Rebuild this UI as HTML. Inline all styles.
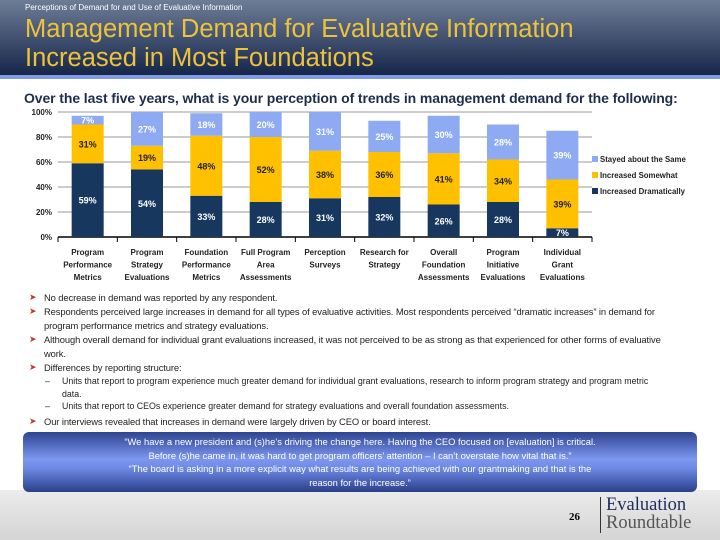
<!DOCTYPE html>
<html><head><meta charset="utf-8"><style>
body{margin:0;width:720px;height:540px;position:relative;overflow:hidden;background:#fff;font-family:"Liberation Sans",sans-serif}
.abs{position:absolute}
#hdr{left:0;top:0;width:720px;height:75px;background:linear-gradient(#6e7d96,#16264a)}
#stripe{left:0;top:75px;width:720px;height:4px;background:#7f9be6}
.bl{position:absolute;left:44px;font-size:9.4px;color:#222;line-height:13.5px;letter-spacing:-0.1px}
.bl:before{content:"➤";position:absolute;left:-15px;color:#c0392b;font-size:9px}
.sb{position:absolute;left:62px;font-size:8.8px;color:#222;line-height:12.5px}
.sb:before{content:"–";position:absolute;left:-17px}
</style></head><body>
<div id="hdr" class="abs"></div>
<div id="stripe" class="abs"></div>
<div class="abs" style="left:25px;top:3px;font-size:8px;color:#fff">Perceptions of Demand for and Use of Evaluative Information</div>
<div class="abs" style="left:25px;top:15px;font-size:25.5px;line-height:29px;color:#ecc33a">Management Demand for Evaluative Information<br>Increased in Most Foundations</div>
<div class="abs" style="left:24px;top:90px;font-size:14px;font-weight:bold;color:#1f2d4d;letter-spacing:-0.1px">Over the last five years, what is your perception of trends in management demand for the following:</div>

<svg class="abs" style="left:0;top:0" width="720" height="290" id="chart"></svg>

<div class="bl" style="top:291px">No decrease in demand was reported by any respondent.</div>
<div class="bl" style="top:305px;width:640px">Respondents perceived large increases in demand for all types of evaluative activities. Most respondents perceived “dramatic increases” in demand for program performance metrics and strategy evaluations.</div>
<div class="bl" style="top:333px;width:640px">Although overall demand for individual grant evaluations increased, it was not perceived to be as strong as that experienced for other forms of evaluative work.</div>
<div class="bl" style="top:361px">Differences by reporting structure:</div>
<div class="sb" style="top:375px;width:590px">Units that report to program experience much greater demand for individual grant evaluations, research to inform program strategy and program metric data.</div>
<div class="sb" style="top:400px">Units that report to CEOs experience greater demand for strategy evaluations and overall foundation assessments.</div>
<div class="bl" style="top:415px">Our interviews revealed that increases in demand were largely driven by CEO or board interest.</div>

<div class="abs" style="left:0;top:490px;width:720px;height:50px;background:linear-gradient(#ececec,#d4d4d4)"></div>
<div class="abs" style="left:23px;top:432px;width:674px;height:60px;border-radius:6px;background:linear-gradient(#2e4490,#7d97f0 45%,#6f8ae6 60%,#2a3f8a);color:#fff;font-size:9.4px;line-height:13.5px;text-align:center;padding-top:3px;box-sizing:border-box">“We have a new president and (s)he’s driving the change here. Having the CEO focused on [evaluation] is critical.<br>Before (s)he came in, it was hard to get program officers’ attention – I can’t overstate how vital that is.”<br>“The board is asking in a more explicit way what results are being achieved with our grantmaking and that is the<br>reason for the increase.”</div>
<div class="abs" style="left:569px;top:511px;font-size:11px;font-weight:bold;font-family:'Liberation Serif',serif">26</div>
<div class="abs" style="left:600px;top:497px;width:1px;height:36px;background:#333"></div>
<div class="abs" style="left:606px;top:496px;font-family:'Liberation Serif',serif;font-size:18.5px;line-height:18px;color:#1f2d5c">Evaluation</div>
<div class="abs" style="left:606px;top:514px;font-family:'Liberation Serif',serif;font-size:18.5px;line-height:18px;color:#555">Roundtable</div>

<script>
const categories=[["Program","Performance","Metrics"],["Program","Strategy","Evaluations"],["Foundation","Performance","Metrics"],["Full Program","Area","Assessments"],["Perception","Surveys"],["Research for","Strategy"],["Overall","Foundation","Assessments"],["Program","Initiative","Evaluations"],["Individual","Grant","Evaluations"]];
const dramatic=[59,54,33,28,31,32,26,28,7];
const somewhat=[31,19,48,52,38,36,41,34,39];
const same=[7,27,18,20,31,25,30,28,39];
const yTicks=[0,20,40,60,80,100];
const seriesNames=["Stayed about the Same","Increased Somewhat","Increased Dramatically"];
const NS="http://www.w3.org/2000/svg",svg=document.getElementById('chart');
const X0=58,X1=592,Y0=237,Y100=112,bw=(X1-X0)/categories.length,barW=32;
const y=v=>Y0-(Y0-Y100)*v/100, xc=i=>X0+bw*(i+0.5);
function mk(t,a){const e=document.createElementNS(NS,t);for(const k in a)e.setAttribute(k,a[k]);svg.appendChild(e);return e;}
yTicks.forEach(t=>{
 const l=mk('line',{x1:X0,x2:X1,y1:y(t),y2:y(t),stroke:t?'#999':'#000','stroke-width':t?1:1.5});
 
 const tx=mk('text',{x:52,y:y(t)+3,'text-anchor':'end','font-size':8,'font-weight':'bold',fill:'#222'});tx.textContent=t+'%';
 
});
for(let i=0;i<=categories.length;i++){const l=mk('line',{x1:X0+bw*i,x2:X0+bw*i,y1:Y0,y2:Y0+5,stroke:'#000'});}
const series=[[dramatic,'#17375e','#fff'],[somewhat,'#ffc000','#222'],[same,'#8eaaf2','#fff']];
categories.forEach((c,i)=>{
 let base=0;
 series.forEach(([arr,col,tc])=>{
  const v=arr[i];
  const r=mk('rect',{x:xc(i)-barW/2,y:y(base+v),width:barW,height:y(base)-y(base+v),fill:col});
  
  const t=mk('text',{x:xc(i),y:(y(base)+y(base+v))/2+3.5,'text-anchor':'middle','font-size':9,'font-weight':'bold',fill:tc});t.textContent=v+'%';
  
  base+=v;
 });
 c.forEach((s,j)=>{const t=mk('text',{x:xc(i),y:255+j*12.5,'text-anchor':'middle','font-size':8,'font-weight':'bold',fill:'#222'});t.textContent=s;
  });
});
const legCols=['#8eaaf2','#ffc000','#17375e'];
seriesNames.forEach((n,k)=>{
 const r=mk('rect',{x:592,y:156+k*16,width:6,height:6,fill:legCols[k]});
 const t=mk('text',{x:600,y:162+k*16,'font-size':7.8,'font-weight':'bold',fill:'#222'});t.textContent=n;
 
});
</script>
</body></html>
